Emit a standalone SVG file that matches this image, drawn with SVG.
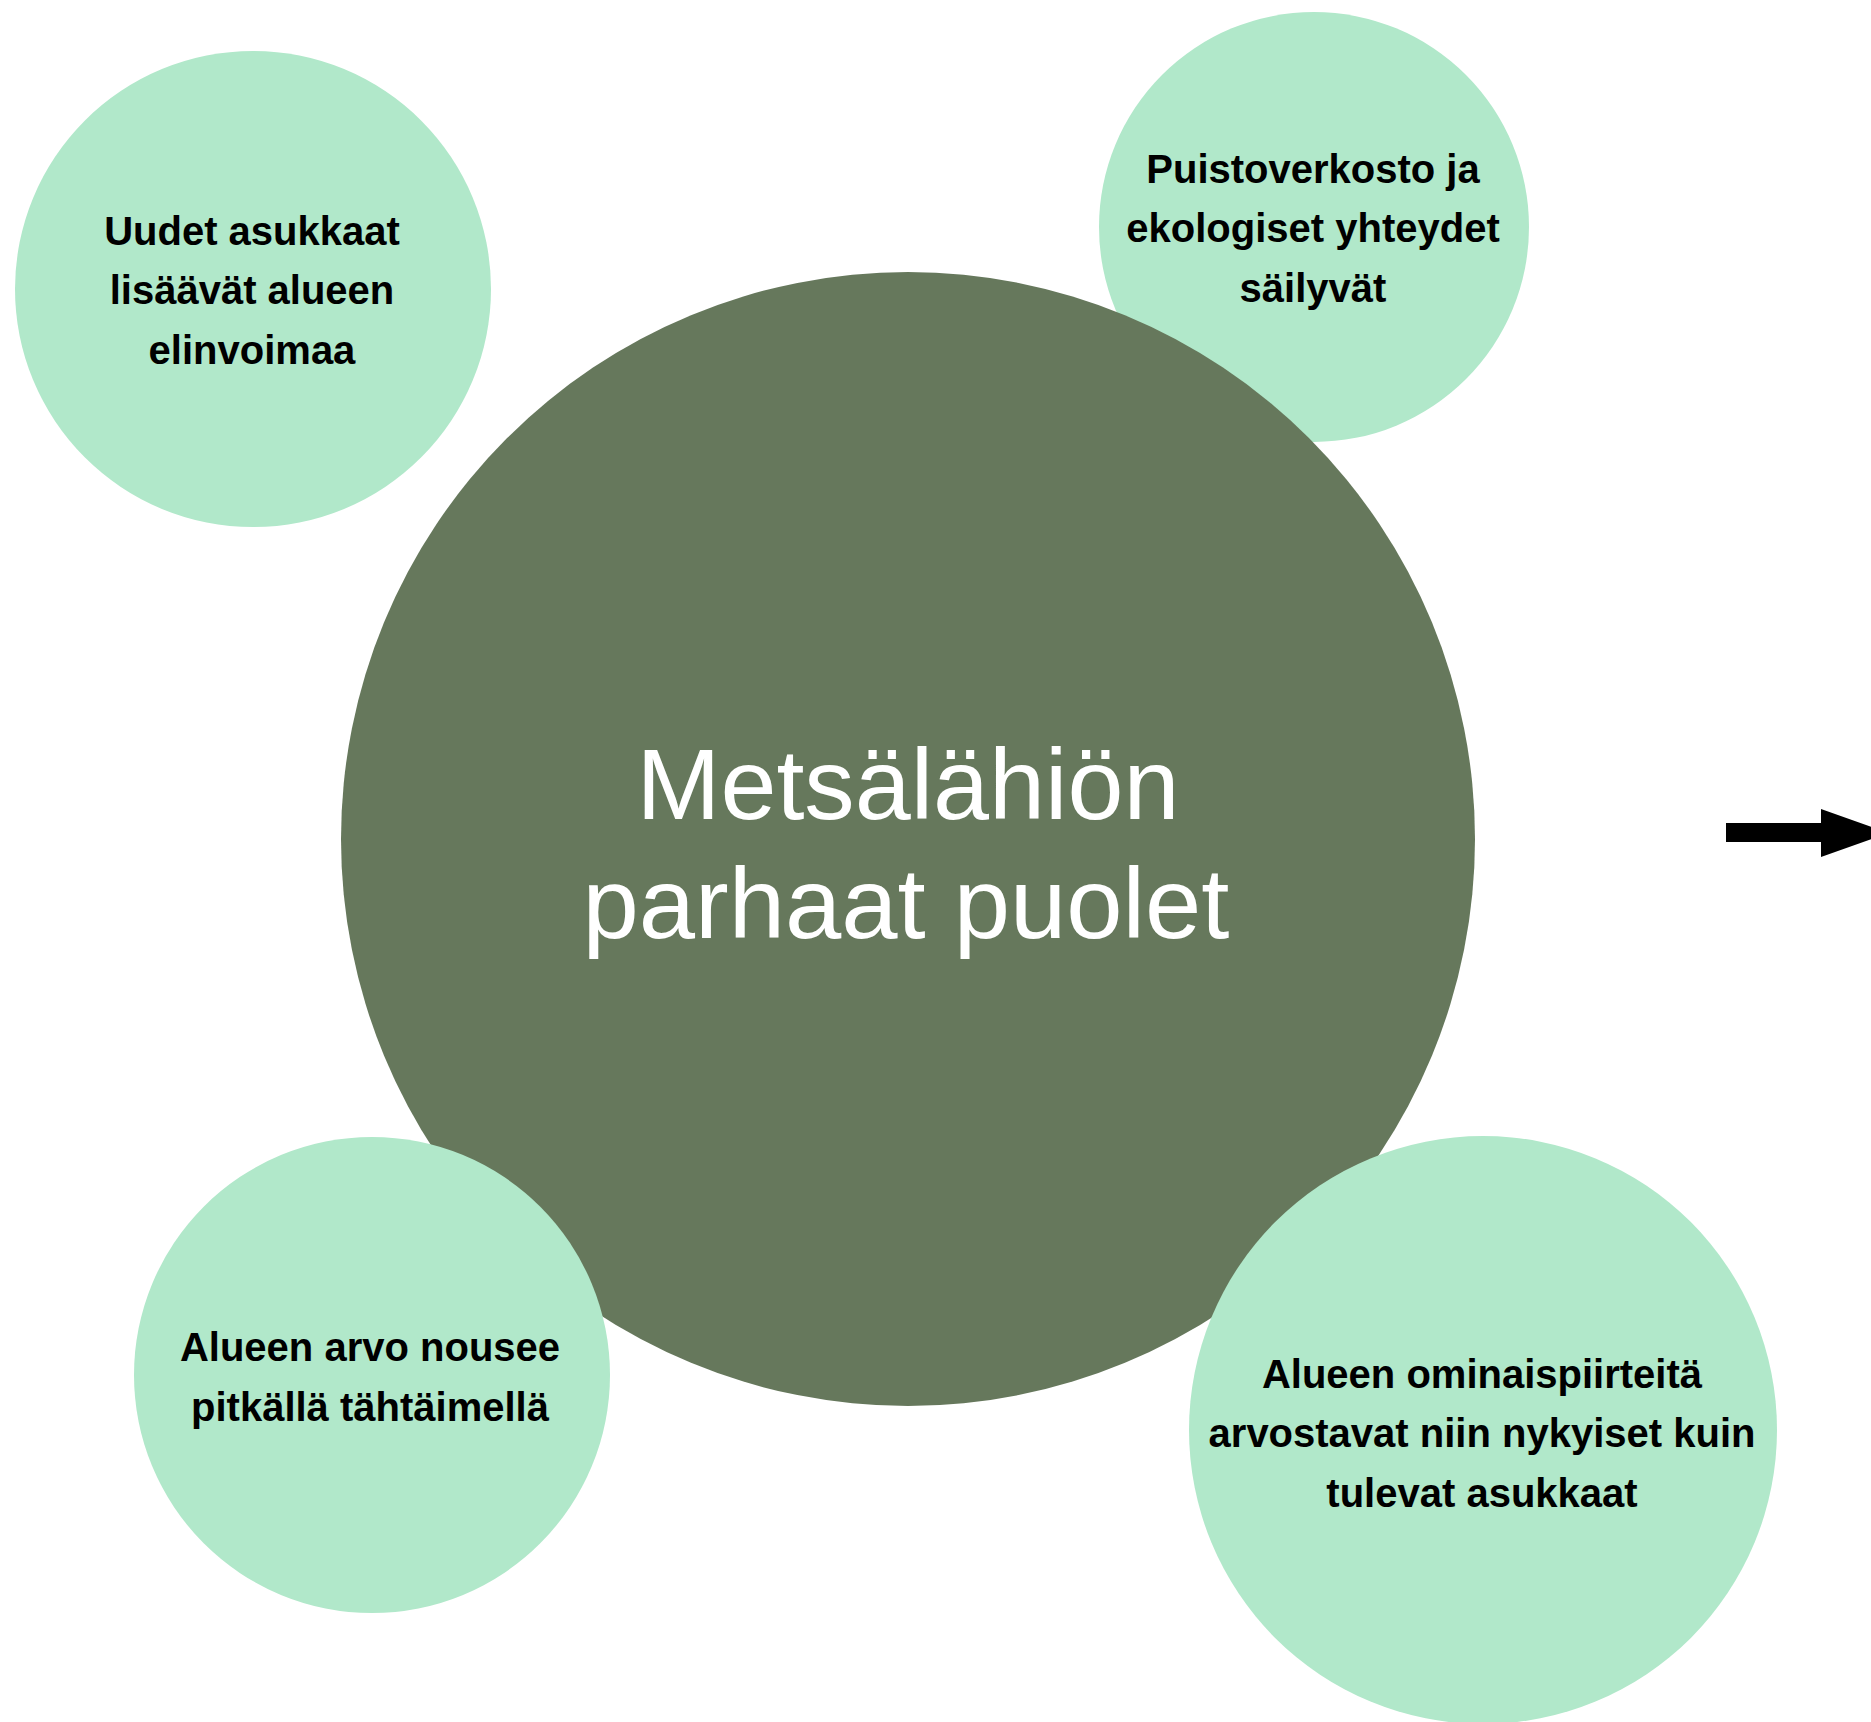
<svg xmlns="http://www.w3.org/2000/svg" width="1871" height="1722" viewBox="0 0 1871 1722">
<style>
.bg{fill:#ffffff}
.light{fill:#b1e8ca}
.dark{fill:#66785c}
.lbl{font-family:"Liberation Sans",Arial,sans-serif;font-weight:bold;font-size:40px;fill:#000;text-anchor:middle}
.title{font-family:"Liberation Sans",Arial,sans-serif;font-size:101px;fill:#fff;text-anchor:middle}
</style>
<rect class="bg" x="0" y="0" width="1871" height="1722"/>
<g id="node-top-right">
<circle class="light" cx="1314" cy="227" r="215"/>
<text class="lbl" x="1313" y="183">Puistoverkosto ja</text>
<text class="lbl" x="1313" y="242">ekologiset yhteydet</text>
<text class="lbl" x="1313" y="302">säilyvät</text>
</g>
<g id="node-center">
<circle class="dark" cx="908" cy="839" r="567"/>
<text class="title" x="908" y="819" textLength="543" lengthAdjust="spacingAndGlyphs">Metsälähiön</text>
<text class="title" x="906" y="938" textLength="647" lengthAdjust="spacingAndGlyphs">parhaat puolet</text>
</g>
<g id="node-top-left">
<circle class="light" cx="253" cy="289" r="238"/>
<text class="lbl" x="252" y="245">Uudet asukkaat</text>
<text class="lbl" x="252" y="304">lisäävät alueen</text>
<text class="lbl" x="252" y="364">elinvoimaa</text>
</g>
<g id="node-bottom-left">
<circle class="light" cx="372" cy="1375" r="238"/>
<text class="lbl" x="370" y="1361">Alueen arvo nousee</text>
<text class="lbl" x="370" y="1421">pitkällä tähtäimellä</text>
</g>
<g id="node-bottom-right">
<circle class="light" cx="1483" cy="1430" r="294"/>
<text class="lbl" x="1482" y="1388">Alueen ominaispiirteitä</text>
<text class="lbl" x="1482" y="1447">arvostavat niin nykyiset kuin</text>
<text class="lbl" x="1482" y="1507">tulevat asukkaat</text>
</g>
<g id="connectors">
<polygon fill="#000" points="1726,823 1821,823 1821,809 1889,833 1821,857 1821,842 1726,842"/>
</g>
</svg>
